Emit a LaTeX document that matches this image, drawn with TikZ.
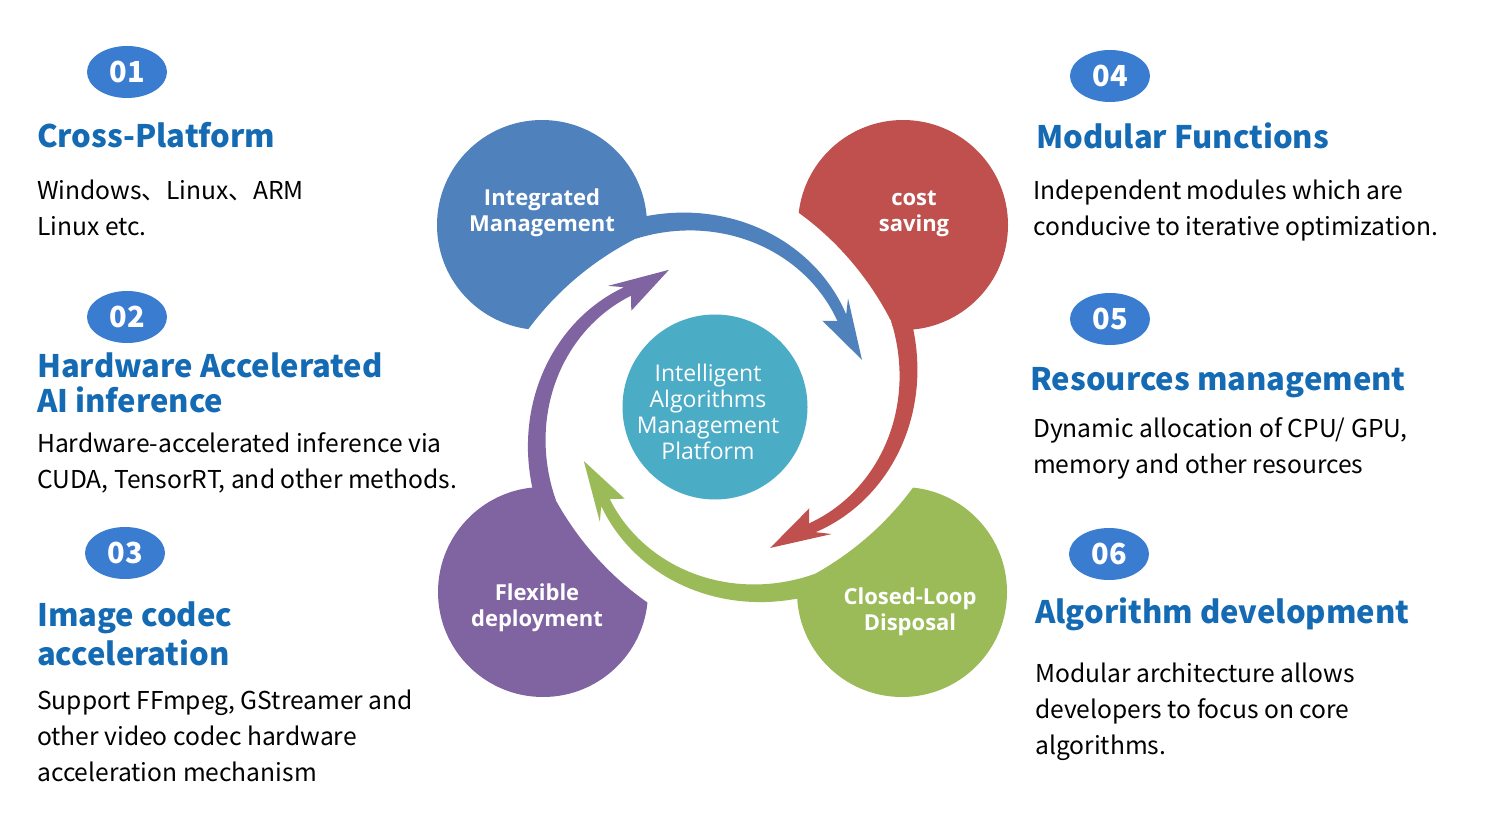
\documentclass[tikz,border=0pt]{standalone}
\usepackage{fontspec}
\setmainfont{Open Sans}
\newfontfamily\cjkfont{Noto Sans CJK SC}
\usepackage{tikz}
\usetikzlibrary{calc,shapes,positioning}
\definecolor{cblue}{RGB}{79,129,189}
\definecolor{cred}{RGB}{192,80,77}
\definecolor{cgreen}{RGB}{155,187,89}
\definecolor{cpurple}{RGB}{128,100,162}
\definecolor{cteal}{RGB}{75,172,198}
\definecolor{numblue}{RGB}{58,124,207}
\definecolor{ttlblue}{RGB}{21,106,180}

\begin{document}
\begin{tikzpicture}[x=1pt,y=-1pt]
      \tikzstyle{numnode} = [ellipse, fill=numblue, minimum width=80pt, minimum height=52pt, inner sep=0pt, text=white, font=\cjkfont\bfseries\fontsize{29}{29}\selectfont]
      \tikzstyle{ttl} = [anchor=base west, inner sep=0pt, align=left, text=ttlblue, font=\cjkfont\bfseries\fontsize{31}{35}\selectfont]
      \tikzstyle{body} = [anchor=base west, inner sep=0pt, align=left, text=black, font=\cjkfont\fontsize{24.6}{36}\selectfont]
      \tikzstyle{bigc} = [circle, minimum size=210pt, inner sep=0pt]
      \tikzstyle{ctxt} = [inner sep=0pt, text=white, align=center, font=\bfseries\fontsize{22}{26}\selectfont]

      \useasboundingbox[fill=white] (0,0) rectangle (1512,826);

      \node[bigc, fill=cblue] (integ) at (542,225) {};
      \node[bigc, fill=cred] (cost) at (903,225) {};
      \node[bigc, fill=cpurple] (flex) at (543,592) {};
      \node[bigc, fill=cgreen] (loop) at (902,592) {};

      \begin{scope}[shift={(722,408)}, y=1pt]
        % white gaps cut out of the circles
        \foreach \b in {37, -53, -141, 129} {
          \fill[white] (0,0) -- ({\b+72}:188)
            -- plot[domain=0:1, samples=30] ({\b+80+45*\x}:{190+23*\x*\x}) -- cycle;
        }
        % spiral arrows
        \foreach \col/\b in {cblue/37, cred/-53, cgreen/-141, cpurple/129} {
          \fill[\col] plot[domain=0:1, samples=40] ({\b+80-80*\x}:{210-54.5*\x})
            -- ({\b+4}:167) -- ({\b-18}:148) -- ({\b+4}:133)
            -- plot[domain=1:0, samples=40] ({\b+80-80*\x}:{190-45.5*\x}) -- cycle;
        }
      \end{scope}

      \node[circle, fill=cteal, minimum size=185pt, inner sep=0pt] (core) at (715,407) {};
      \node[inner sep=0pt, text=white, align=center, font=\fontsize{23}{26}\selectfont] (coretxt) at (708,412) {Intelligent\\Algorithms\\Management\\Platform};

      \node[ctxt] (integtxt) at (542,213) {Integrated\\Management};
      \node[ctxt] (costtxt) at (914,214) {cost\\saving};
      \node[ctxt] (flextxt) at (537,608) {Flexible\\deployment};
      \node[ctxt] (looptxt) at (910,612) {Closed-Loop\\Disposal};

      % left column
      \node[numnode] (n1) at (127,72) {01};
      \node[ttl] (t1) at (37,148) {Cross-Platform};
      \node[body] (d1) at (37,236) {Windows、Linux、ARM\\Linux etc.};

      \node[numnode] (n2) at (127,317) {02};
      \node[ttl] (t2) at (37,412) {Hardware Accelerated\\AI inference};
      \node[body] (d2) at (37,488) {Hardware-accelerated inference via\\CUDA, TensorRT, and other methods.};

      \node[numnode] (n3) at (125,553) {03};
      \node[ttl] (t3) at (37,665) {Image codec\\[4pt]acceleration};
      \node[body] (d3) at (37,781) {Support FFmpeg, GStreamer and\\other video codec hardware\\acceleration mechanism};

      % right column
      \node[numnode] (n4) at (1110,76) {04};
      \node[ttl] (t4) at (1036,149) {Modular Functions};
      \node[body] (d4) at (1033,236) {Independent modules which are\\conducive to iterative optimization.};

      \node[numnode] (n5) at (1110,319) {05};
      \node[ttl] (t5) at (1030,390) {Resources management};
      \node[body] (d5) at (1033,473) {Dynamic allocation of CPU/ GPU,\\memory and other resources};

      \node[numnode] (n6) at (1109,554) {06};
      \node[ttl] (t6) at (1035,623) {Algorithm development};
      \node[body] (d6) at (1035,754) {Modular architecture allows\\developers to focus on core\\algorithms.};
\end{tikzpicture}
\end{document}
